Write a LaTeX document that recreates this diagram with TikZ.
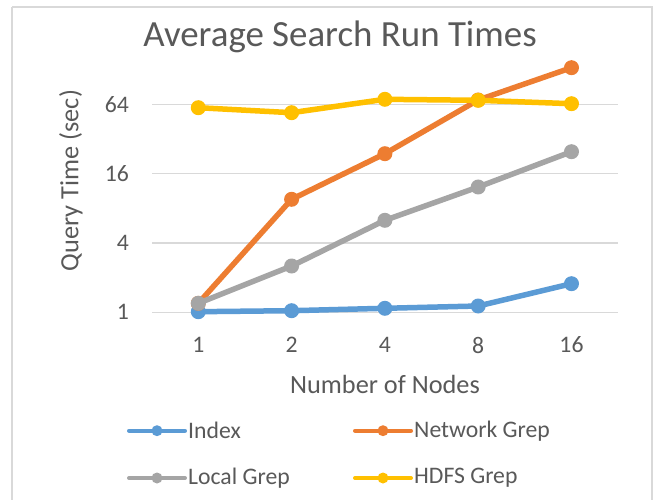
\documentclass[tikz,border=0pt]{standalone}
\usepackage{fontspec}
\setmainfont{Carlito}
\definecolor{txt}{HTML}{595959}
\definecolor{grid}{HTML}{D9D9D9}
\definecolor{cidx}{HTML}{5B9BD5}
\definecolor{cnet}{HTML}{ED7D31}
\definecolor{cloc}{HTML}{A5A5A5}
\definecolor{chdfs}{HTML}{FFC000}
\tikzset{
  series/.style={line width=5.5pt, line cap=round, line join=round},
  dot/.style={circle, fill=#1, draw=none, inner sep=0pt, minimum size=15pt},
  keyline/.style={line width=4pt, line cap=round},
  keydot/.style={circle, fill=#1, draw=none, inner sep=0pt, minimum size=11pt},
  ticklbl/.style={text=txt, font=\fontsize{23.7}{26}\selectfont, inner sep=0pt},
  axlbl/.style={text=txt, font=\fontsize{26.3}{30}\selectfont, inner sep=0pt},
  keylbl/.style={text=txt, font=\fontsize{23.7}{26}\selectfont, inner sep=0pt, anchor=west},
}
\begin{document}
\begin{tikzpicture}[x=1pt, y=-1pt]
\useasboundingbox (0,0) rectangle (654,500);
\fill[white] (0,0) rectangle (654,500);
% chart frame
\draw[grid, line width=2pt] (12,7) -- (652,7) -- (652,520) (12,7) -- (12,520);

% title
\node[text=txt, font=\fontsize{36.9}{40}\selectfont, inner sep=0pt] (title) at (340,37) {Average Search Run Times};

% horizontal gridlines and y tick labels
\foreach \v/\y in {1/312.3, 4/242.9, 16/173.6, 64/104.3} {
  \draw[grid, line width=1.5pt] (152,\y) -- (618,\y);
  \node[ticklbl, anchor=east] (y\v) at (129,\y) {\v};
}

% x tick labels
\foreach \v/\x in {1/198.3, 2/291.6, 4/384.9, 8/478.2, 16/571.5} {
  \node[ticklbl] (x\v) at (\x,345) {\v};
}

% axis titles
\node[axlbl, rotate=90] (ytitle) at (71,180.5) {Query Time (sec)};
\node[axlbl] (xtitle) at (385,384) {Number of Nodes};

% data points
\foreach \i/\x in {1/198.3, 2/291.6, 3/384.9, 4/478.2, 5/571.5} {
  \coordinate (px\i) at (\x,0);
}
\foreach \s/\a/\b/\c/\d/\e in {
  idx/311.7/310.7/308.3/306.0/283.7,
  net/303.3/199.3/153.7/100.0/67.7,
  loc/303.3/266.0/220.3/187.0/151.7,
  hdfs/107.7/112.7/99.3/100.3/103.7} {
  \coordinate (\s1) at (198.3,\a);
  \coordinate (\s2) at (291.6,\b);
  \coordinate (\s3) at (384.9,\c);
  \coordinate (\s4) at (478.2,\d);
  \coordinate (\s5) at (571.5,\e);
}

% series: Index
\draw[series, cidx] (idx1) -- (idx2) -- (idx3) -- (idx4) -- (idx5);
\foreach \i in {1,...,5} \node[dot=cidx] (midx\i) at (idx\i) {};
% series: Network Grep
\draw[series, cnet] (net1) -- (net2) -- (net3) -- (net4) -- (net5);
\foreach \i in {1,...,5} \node[dot=cnet] (mnet\i) at (net\i) {};
% series: Local Grep
\draw[series, cloc] (loc1) -- (loc2) -- (loc3) -- (loc4) -- (loc5);
\foreach \i in {1,...,5} \node[dot=cloc] (mloc\i) at (loc\i) {};
% series: HDFS Grep
\draw[series, chdfs] (hdfs1) -- (hdfs2) -- (hdfs3) -- (hdfs4) -- (hdfs5);
\foreach \i in {1,...,5} \node[dot=chdfs] (mhdfs\i) at (hdfs\i) {};

% legend
\foreach \k/\c/\x/\y/\t in {
  kidx/cidx/129/430.7/Index,
  knet/cnet/355/430.7/Network Grep,
  kloc/cloc/129/478/Local Grep,
  khdfs/chdfs/355/478/HDFS Grep} {
  \coordinate (\k a) at (\x,\y);
  \coordinate (\k b) at ({\x+56},\y);
  \draw[keyline, \c] (\k a) -- (\k b);
  \node[keydot=\c] (\k m) at ({\x+28},\y) {};
  \node[keylbl] (\k t) at ({\x+59},\y) {\t};
}
\end{tikzpicture}
\end{document}
